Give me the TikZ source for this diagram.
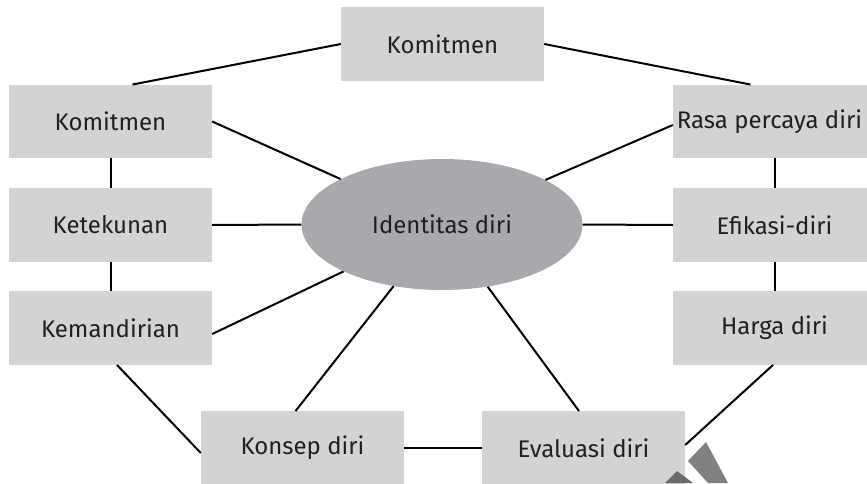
\documentclass[tikz,border=0pt]{standalone}
\usepackage{fontspec}
\setmainfont{Fira Sans}
\definecolor{boxgray}{HTML}{D1D3D4}
\definecolor{ellgray}{HTML}{A7A9AC}
\definecolor{txt}{HTML}{231F20}
\definecolor{wmA}{HTML}{808080}
\definecolor{wmB}{HTML}{6A6A6A}
\usetikzlibrary{shapes.geometric}
\begin{document}
\begin{tikzpicture}[x=1pt,y=-1pt,
  boxnode/.style={fill=boxgray,minimum width=203pt,minimum height=73.5pt,inner sep=0pt,text=txt,font=\fontsize{24}{28}\selectfont},
  ellnode/.style={ellipse,fill=ellgray,minimum width=281pt,minimum height=131pt,inner sep=0pt,text=txt,font=\fontsize{24}{28}\selectfont},
  link/.style={draw=black,line width=2pt}]
\useasboundingbox (0,0) rectangle (867,483);
\node[boxnode] (tk) at (442.5,44) {Komitmen};
\node[boxnode] (lk) at (110.5,121.5) {Komitmen};
\node[boxnode] (kt) at (110.5,225) {Ketekunan};
\node[boxnode] (km) at (110.5,328) {Kemandirian};
\node[boxnode] (ks) at (302.5,448) {Konsep diri};
\node[boxnode] (ev) at (583.5,448) {Evaluasi diri};
\node[boxnode] (rp) at (774.5,121.5) {\hspace*{-10pt}Rasa percaya diri};
\node[boxnode] (ef) at (774.5,225) {Efikasi-diri};
\node[boxnode] (hd) at (774.5,328) {Harga diri};
\node[ellnode] (id) at (442,224.5) {Identitas diri};
\draw[link] (tk.west) -- ([xshift=22pt]lk.north);
\draw[link] (tk.east) -- ([xshift=-24pt]rp.north);
\draw[link] (lk) -- (kt);
\draw[link] (kt) -- (km);
\draw[link] (rp) -- (ef);
\draw[link] (ef) -- (hd);
\draw[link] (lk.east) -- (id);
\draw[link] (kt.east) -- (id.west);
\draw[link] ([yshift=-6pt]km.east) -- (id);
\draw[link] ([xshift=6.5pt]km.south) -- ([yshift=-5pt]ks.west);
\draw[link] ([xshift=-7pt]ks.north) -- (id);
\draw[link] (ks.east) -- (ev.west);
\draw[link] ([xshift=-4.5pt]ev.north) -- (id);
\draw[link] ([yshift=-3.5pt]rp.west) -- (id);
\draw[link] (ef.west) -- (id.east);
\draw[link] ([xshift=-1.5pt]hd.south) -- ([yshift=3pt]ev.east);
\fill[wmA] (688,461) -- (706,442) -- (728,483) -- (708,483) -- cycle;
\fill[wmB] (665,483) -- (677,471) -- (693,483) -- cycle;
\end{tikzpicture}
\end{document}
